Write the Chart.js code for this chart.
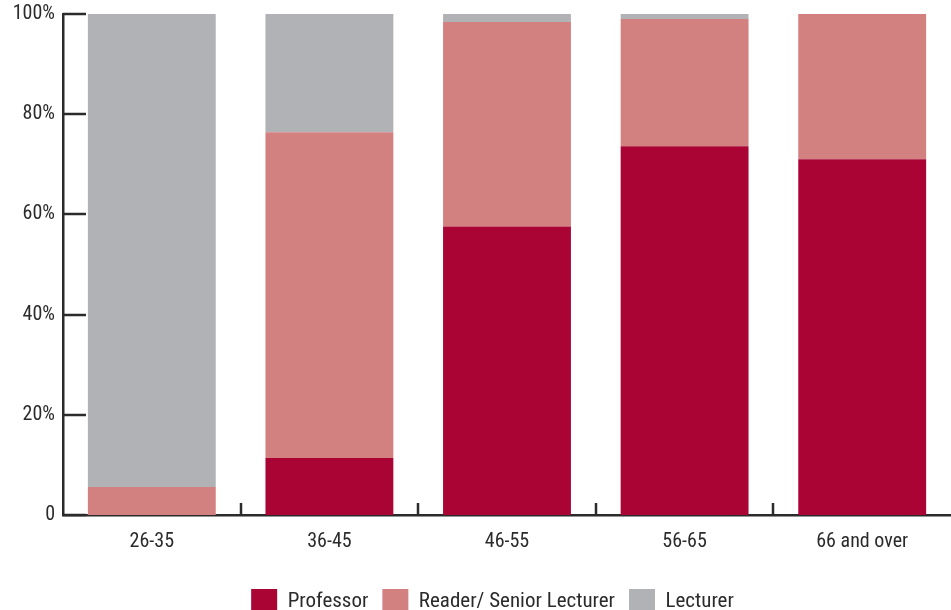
<!DOCTYPE html>
<html>
<head>
<meta charset="utf-8">
<script src="https://cdn.jsdelivr.net/npm/chart.js@4/dist/chart.umd.min.js"></script>
<style>
  html, body { margin: 0; padding: 0; background: #fff; overflow: hidden; }
  #wrap { width: 951px; height: 610px; }
</style>
</head>
<body>
<div id="wrap"><canvas id="chart" width="951" height="610"></canvas></div>
<script>
// Age bands and share of staff (%) in each grade
const ageBands = ['26-35', '36-45', '46-55', '56-65', '66 and over'];
const professor = [0, 11.4, 57.6, 73.6, 71.0];
const readerSeniorLecturer = [5.6, 65.0, 40.8, 25.4, 29.0];
const lecturer = [94.4, 23.6, 1.6, 1.0, 0];
const yTickValues = [0, 20, 40, 60, 80, 100];

const FONT = '"Roboto Condensed", "DejaVu Sans Condensed", sans-serif';
const INK = '#2b2b2b';

// Short tick marks drawn on the inner side of both axes
const innerTicks = {
  id: 'innerTicks',
  afterDatasetsDraw(chart) {
    const { ctx, scales: { x, y } } = chart;
    ctx.save();
    ctx.strokeStyle = INK;
    ctx.lineWidth = 2.5;
    ctx.lineCap = 'butt';
    // y ticks: pointing right into the plot
    yTickValues.forEach(v => {
      const py = Math.round(y.getPixelForValue(v));
      ctx.beginPath();
      ctx.moveTo(x.left, py);
      ctx.lineTo(x.left + 23, py);
      ctx.stroke();
    });
    // x ticks: at boundaries between bands, pointing up
    for (let i = 1; i < ageBands.length; i++) {
      const px = Math.round((x.getPixelForValue(i - 1) + x.getPixelForValue(i)) / 2);
      ctx.beginPath();
      ctx.moveTo(px, y.bottom);
      ctx.lineTo(px, y.bottom - 12);
      ctx.stroke();
    }
    ctx.restore();
  }
};

// Nudge the centred legend slightly to the right
const legendOffset = {
  id: 'legendOffset',
  afterLayout(chart) {
    if (chart.legend) {
      chart.legend.left += 17;
      chart.legend.right += 17;
    }
  }
};

new Chart(document.getElementById('chart'), {
  type: 'bar',
  data: {
    labels: ageBands,
    datasets: [
      { label: 'Professor', data: professor, backgroundColor: '#A90434' },
      { label: 'Reader/ Senior Lecturer', data: readerSeniorLecturer, backgroundColor: '#D38080' },
      { label: 'Lecturer', data: lecturer, backgroundColor: '#B1B2B6' }
    ]
  },
  options: {
    responsive: false,
    devicePixelRatio: 1,
    animation: false,
    layout: { padding: { left: 0, right: 0, top: 14, bottom: -15 } },
    datasets: {
      bar: { categoryPercentage: 1.0, barPercentage: 0.72, borderWidth: 0 }
    },
    scales: {
      x: {
        stacked: true,
        afterFit(scale) { scale.height += 6; },
        grid: { display: false, drawTicks: false },
        border: { display: true, color: INK, width: 2.5 },
        ticks: { color: INK, font: { family: FONT, size: 20 }, padding: 15 }
      },
      y: {
        stacked: true,
        min: 0,
        max: 100,
        afterFit(scale) {
          scale.width = 63;
          scale.paddingTop = 0;
          scale.paddingBottom = 0;
        },
        afterBuildTicks(scale) { scale.ticks = yTickValues.map(v => ({ value: v })); },
        grid: { display: false, drawTicks: false },
        border: { display: true, color: INK, width: 2.5 },
        ticks: {
          color: INK,
          font: { family: FONT, size: 20 },
          padding: 8,
          callback: v => (v === 0 ? '0' : v + '%')
        }
      }
    },
    plugins: {
      tooltip: { enabled: false },
      legend: {
        position: 'bottom',
        labels: {
          color: INK,
          font: { family: FONT, size: 21 },
          boxWidth: 26,
          boxHeight: 26,
          padding: 14
        }
      }
    }
  },
  plugins: [innerTicks, legendOffset]
});
</script>
</body>
</html>
